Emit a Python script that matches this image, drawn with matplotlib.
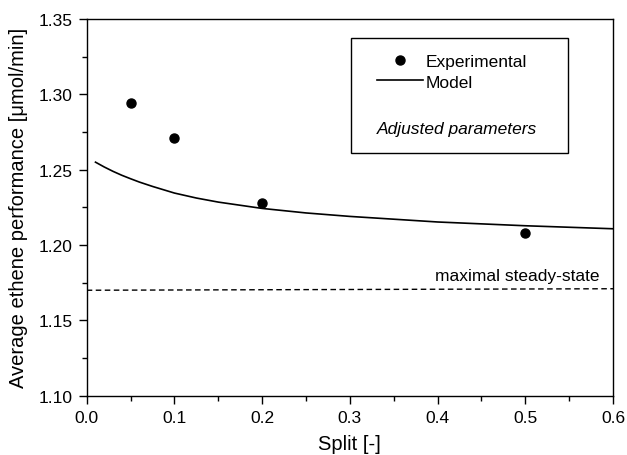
import numpy as np
import matplotlib.pyplot as plt
from matplotlib.ticker import MultipleLocator
from matplotlib.lines import Line2D
from matplotlib.patches import Rectangle

plt.rcParams['font.family'] = ['Liberation Sans', 'DejaVu Sans']

# Measured average ethene performance
split_exp = [0.05, 0.10, 0.20, 0.50]
perf_exp = [1.294, 1.271, 1.228, 1.208]

# Model with adjusted parameters
split_model = [0.01, 0.02, 0.03, 0.04, 0.05, 0.06, 0.075, 0.10, 0.125, 0.15, 0.20,
               0.25, 0.30, 0.40, 0.50, 0.60]
perf_model = [1.255, 1.2518, 1.2489, 1.2463, 1.2440, 1.2418, 1.2389, 1.2345, 1.2312,
              1.2285, 1.2243, 1.2213, 1.2190, 1.2153, 1.2128, 1.2108]

# Maximal steady-state performance
split_ss = [0.0, 0.6]
perf_ss = [1.170, 1.171]

fig = plt.figure(figsize=(6.27, 4.56), dpi=100)
ax = fig.add_axes([0.1383, 0.130, 0.8394, 0.8261])

ax.plot(split_exp, perf_exp, 'o', color='black', markersize=6.5, label='Experimental')
ax.plot(split_model, perf_model, '-', color='black', linewidth=1.2, label='Model')
ax.plot(split_ss, perf_ss, '--', color='black', linewidth=1.0, dashes=(4, 2.5))
ax.text(0.585, 1.1765, 'maximal steady-state', ha='right', va='baseline', fontsize=12.5)

ax.set_xlim(0.0, 0.6)
ax.set_ylim(1.10, 1.35)
ax.xaxis.set_major_locator(MultipleLocator(0.1))
ax.xaxis.set_minor_locator(MultipleLocator(0.05))
ax.yaxis.set_major_locator(MultipleLocator(0.05))
ax.yaxis.set_minor_locator(MultipleLocator(0.025))
ax.tick_params(which='both', direction='out', top=False, right=False, labelsize=12.5)
ax.tick_params(which='major', length=6, width=1, pad=4)
ax.tick_params(which='minor', length=3.6, width=1)
ax.xaxis.set_major_formatter(plt.FormatStrFormatter('%.1f'))
ax.yaxis.set_major_formatter(plt.FormatStrFormatter('%.2f'))
for s in ax.spines.values():
    s.set_linewidth(1.0)

ax.set_xlabel('Split [-]', fontsize=14.5, labelpad=7)
ax.set_ylabel('Average ethene performance [\u03bcmol/min]', fontsize=14.5, labelpad=8)

# Legend box with note
ax.add_patch(Rectangle((0.3013, 1.2611), 0.2471, 0.0761, fill=False,
                       edgecolor='black', linewidth=1.0, zorder=3))
handles = [Line2D([], [], marker='o', color='black', linestyle='none', markersize=6.5),
           Line2D([], [], color='black', linewidth=1.2)]
ax.legend(handles, ['Experimental', 'Model'], loc='upper left',
          bbox_to_anchor=(0.526, 0.944), frameon=False, fontsize=12.5,
          handlelength=2.6, handletextpad=0.2, labelspacing=0.3, borderpad=0.3)
ax.text(0.422, 1.2775, 'Adjusted parameters', style='italic', ha='center',
        va='center', fontsize=12.5)

fig.savefig('out.png', dpi=100)
